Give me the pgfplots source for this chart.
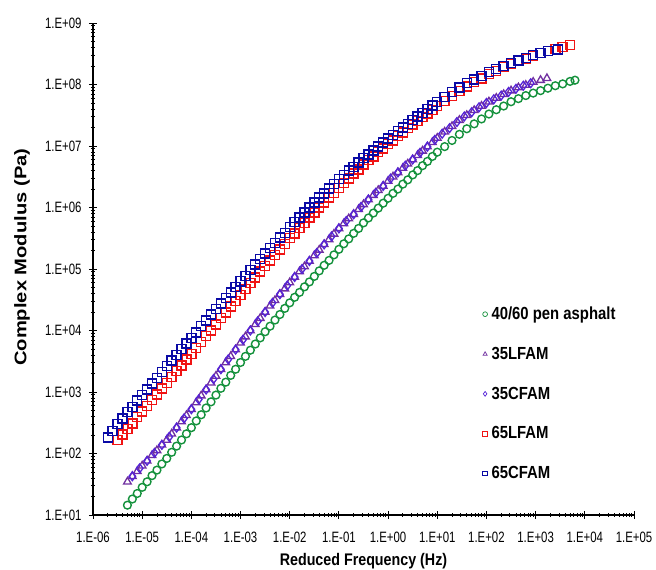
\documentclass[border=0pt]{standalone}
\usepackage{pgfplots}
\pgfplotsset{compat=1.18}
\usepackage{pgfplotstable}
\usepackage{fontspec}
\setmainfont{Liberation Sans}
\newfontfamily\tickfont{Liberation Sans}[FakeStretch=0.76]
\newfontfamily\labfont{Liberation Sans}[FakeStretch=0.85]
\newfontfamily\ylabfont{Liberation Sans}[FakeStretch=1.2]
\definecolor{cgreen}{RGB}{20,145,60}
\definecolor{cpurple}{RGB}{112,48,160}
\definecolor{cviolet}{RGB}{85,35,215}
\definecolor{cred}{RGB}{240,20,20}
\definecolor{cblue}{RGB}{10,10,165}

% log10(frequency)  log10(modulus)
\pgfplotstableread{
lx ly
-5.3 1.16
-5.2 1.26
-5.1 1.35
-5.0 1.45
-4.9 1.54
-4.8 1.64
-4.7 1.73
-4.6 1.83
-4.5 1.92
-4.4 2.02
-4.3 2.12
-4.2 2.22
-4.1 2.32
-4.0 2.42
-3.9 2.53
-3.8 2.63
-3.7 2.74
-3.6 2.84
-3.5 2.95
-3.4 3.06
-3.3 3.16
-3.2 3.27
-3.1 3.37
-3.0 3.48
-2.9 3.58
-2.8 3.68
-2.7 3.78
-2.6 3.88
-2.5 3.98
-2.4 4.07
-2.3 4.17
-2.2 4.26
-2.1 4.36
-2.0 4.45
-1.9 4.54
-1.8 4.62
-1.7 4.71
-1.6 4.79
-1.5 4.88
-1.4 4.97
-1.3 5.06
-1.2 5.14
-1.1 5.23
-1.0 5.32
-0.9 5.41
-0.8 5.49
-0.7 5.58
-0.6 5.66
-0.5 5.75
-0.4 5.83
-0.3 5.91
-0.2 5.99
-0.1 6.07
0.0 6.15
0.1 6.23
0.2 6.30
0.3 6.38
0.4 6.45
0.5 6.53
0.6 6.60
0.7 6.68
0.8 6.75
0.9 6.83
1.0 6.90
1.15 6.99
1.3 7.09
1.45 7.19
1.6 7.28
1.75 7.36
1.9 7.44
2.05 7.52
2.2 7.59
2.35 7.65
2.5 7.72
2.65 7.77
2.8 7.82
2.95 7.86
3.1 7.90
3.25 7.94
3.4 7.98
3.55 8.01
3.7 8.05
3.8 8.07
}\tgreen

\pgfplotstableread{
lx ly
-5.3 1.54
-5.2 1.63
-5.1 1.71
-5.0 1.80
-4.9 1.88
-4.8 1.97
-4.7 2.05
-4.6 2.14
-4.5 2.22
-4.4 2.32
-4.3 2.42
-4.2 2.52
-4.1 2.62
-4.0 2.72
-3.9 2.83
-3.8 2.94
-3.7 3.04
-3.6 3.15
-3.5 3.26
-3.4 3.37
-3.3 3.48
-3.2 3.58
-3.1 3.69
-3.0 3.80
-2.9 3.90
-2.8 4.00
-2.7 4.10
-2.6 4.20
-2.5 4.30
-2.4 4.40
-2.3 4.49
-2.2 4.59
-2.1 4.68
-2.0 4.78
-1.9 4.87
-1.8 4.96
-1.7 5.04
-1.6 5.13
-1.5 5.22
-1.4 5.31
-1.3 5.40
-1.2 5.48
-1.1 5.57
-1.0 5.66
-0.9 5.74
-0.8 5.82
-0.7 5.89
-0.6 5.97
-0.5 6.05
-0.4 6.13
-0.3 6.20
-0.2 6.28
-0.1 6.35
0.0 6.43
0.1 6.50
0.2 6.57
0.3 6.64
0.4 6.71
0.5 6.78
0.6 6.85
0.7 6.92
0.8 6.99
0.9 7.06
1.0 7.13
1.15 7.23
1.3 7.32
1.45 7.42
1.6 7.50
1.75 7.58
1.9 7.65
2.05 7.72
2.2 7.78
2.35 7.84
2.5 7.90
2.65 7.95
2.8 7.99
2.95 8.04
3.1 8.07
3.23 8.10
}\tlf

\pgfplotstableread{
lx ly
-5.2 1.63
-5.05 1.76
-4.9 1.88
-4.75 2.01
-4.6 2.14
-4.45 2.27
-4.3 2.42
-4.15 2.57
-4.0 2.72
-3.85 2.88
-3.7 3.04
-3.55 3.21
-3.4 3.37
-3.25 3.53
-3.1 3.69
-2.95 3.85
-2.8 4.00
-2.65 4.15
-2.5 4.30
-2.35 4.45
-2.2 4.59
-2.05 4.73
-1.9 4.87
-1.75 5.00
-1.6 5.13
-1.45 5.26
-1.3 5.40
-1.15 5.53
-1.0 5.66
-0.85 5.78
-0.7 5.89
-0.55 6.01
-0.4 6.13
-0.25 6.24
-0.1 6.35
0.05 6.47
0.2 6.57
0.35 6.68
0.5 6.78
0.65 6.89
0.8 6.99
0.95 7.10
1.1 7.20
1.25 7.29
1.4 7.39
1.55 7.48
1.7 7.55
1.85 7.63
2.0 7.70
2.15 7.76
2.3 7.82
2.45 7.88
2.6 7.93
2.75 7.98
2.9 8.02
}\tcf

\pgfplotstableread{
lx ly
-5.5 2.22
-5.4 2.31
-5.3 2.40
-5.2 2.49
-5.1 2.59
-5.0 2.68
-4.9 2.77
-4.8 2.87
-4.7 2.96
-4.6 3.06
-4.5 3.15
-4.4 3.24
-4.3 3.34
-4.2 3.43
-4.1 3.53
-4.0 3.62
-3.9 3.72
-3.8 3.81
-3.7 3.91
-3.6 4.00
-3.5 4.10
-3.4 4.20
-3.3 4.29
-3.2 4.39
-3.1 4.48
-3.0 4.58
-2.9 4.67
-2.8 4.77
-2.7 4.86
-2.6 4.96
-2.5 5.05
-2.4 5.14
-2.3 5.23
-2.2 5.32
-2.1 5.41
-2.0 5.50
-1.9 5.58
-1.8 5.67
-1.7 5.75
-1.6 5.84
-1.5 5.92
-1.4 6.00
-1.3 6.08
-1.2 6.16
-1.1 6.24
-1.0 6.32
-0.9 6.40
-0.8 6.47
-0.7 6.55
-0.6 6.62
-0.5 6.70
-0.4 6.77
-0.3 6.83
-0.2 6.90
-0.1 6.96
0.0 7.03
0.1 7.09
0.2 7.16
0.3 7.22
0.4 7.29
0.5 7.35
0.6 7.41
0.7 7.47
0.8 7.53
0.9 7.59
1.0 7.65
1.15 7.73
1.3 7.81
1.45 7.89
1.6 7.97
1.75 8.04
1.9 8.10
2.05 8.17
2.2 8.22
2.35 8.28
2.5 8.33
2.65 8.38
2.8 8.42
2.95 8.47
3.1 8.51
3.25 8.54
3.4 8.58
3.55 8.61
3.7 8.64
}\tlsf

\pgfplotstableread{
lx ly
-5.7 2.26
-5.6 2.37
-5.5 2.48
-5.4 2.57
-5.3 2.67
-5.2 2.76
-5.1 2.86
-5.0 2.95
-4.9 3.04
-4.8 3.14
-4.7 3.23
-4.6 3.33
-4.5 3.42
-4.4 3.51
-4.3 3.60
-4.2 3.70
-4.1 3.79
-4.0 3.88
-3.9 3.97
-3.8 4.07
-3.7 4.16
-3.6 4.26
-3.5 4.35
-3.4 4.44
-3.3 4.53
-3.2 4.62
-3.1 4.71
-3.0 4.80
-2.9 4.89
-2.8 4.98
-2.7 5.07
-2.6 5.16
-2.5 5.25
-2.4 5.34
-2.3 5.42
-2.2 5.51
-2.1 5.59
-2.0 5.68
-1.9 5.76
-1.8 5.84
-1.7 5.92
-1.6 6.00
-1.5 6.08
-1.4 6.16
-1.3 6.23
-1.2 6.31
-1.1 6.38
-1.0 6.46
-0.9 6.53
-0.8 6.60
-0.7 6.66
-0.6 6.73
-0.5 6.80
-0.4 6.86
-0.3 6.93
-0.2 6.99
-0.1 7.06
0.0 7.12
0.1 7.18
0.2 7.24
0.3 7.30
0.4 7.36
0.5 7.42
0.6 7.48
0.7 7.54
0.8 7.60
0.9 7.66
1.0 7.72
1.15 7.80
1.3 7.88
1.45 7.95
1.6 8.02
1.75 8.08
1.9 8.14
2.05 8.20
2.2 8.25
2.35 8.30
2.5 8.35
2.65 8.39
2.8 8.43
2.95 8.48
3.1 8.51
3.25 8.54
3.45 8.57
}\tcsf

\pgfplotsset{
  legimg/.style 2 args={legend image code/.code={%
    \draw[mark=#1, mark size=2.4pt, mark options={draw=#2, line width=0.7pt, fill=none}] plot coordinates {(0.12cm,0cm)};}},
}

\begin{document}
\begin{tikzpicture}
\begin{axis}[
  width=541pt, height=492pt, scale only axis,
  xmode=log, ymode=log,
  xmin=1e-6, xmax=1e5, ymin=1e1, ymax=1e9,
  xtickten={-6,-5,-4,-3,-2,-1,0,1,2,3,4,5},
  ytickten={1,2,3,4,5,6,7,8,9},
  xticklabels={1.E-06,1.E-05,1.E-04,1.E-03,1.E-02,1.E-01,1.E+00,1.E+01,1.E+02,1.E+03,1.E+04,1.E+05},
  yticklabels={1.E+01,1.E+02,1.E+03,1.E+04,1.E+05,1.E+06,1.E+07,1.E+08,1.E+09},
  axis lines*=left,
  axis line style={line width=1.3pt, -},
  tick style={black, line width=0.9pt},
  tick align=center,
  major tick length=8pt, minor tick length=4pt,
  xticklabel style={font=\tickfont\fontsize{15}{17}\selectfont, yshift=-9pt},
  yticklabel style={font=\tickfont\fontsize{15}{17}\selectfont, xshift=-4pt},
  xlabel={Reduced Frequency (Hz)},
  ylabel={Complex Modulus (Pa)},
  xlabel style={font=\labfont\bfseries\fontsize{16.8}{18}\selectfont, at={(axis description cs:0.5,0)}, anchor=center, yshift=-46pt},
  ylabel style={font=\ylabfont\bfseries\fontsize{16.8}{18}\selectfont, at={(axis description cs:0,0.524)}, anchor=center, yshift=71pt},
  legend style={draw=none, fill=none, at={(axis description cs:0.72,0.425)}, anchor=north west,
    font=\labfont\bfseries\fontsize{17.5}{19}\selectfont, inner sep=0pt,
    row sep=24pt, nodes={inner sep=1pt},
    /tikz/every odd column/.append style={column sep=3pt}},
  legend cell align=left,
]
\addplot[only marks, mark=o, mark size=3.9pt, mark options={draw=cgreen, line width=1.4pt, fill=none}, legimg={o}{cgreen}]
  table[x expr={10^(\thisrow{lx})}, y expr={10^(\thisrow{ly})}] {\tgreen};
\addlegendentry{40/60 pen asphalt}
\addplot[only marks, mark=triangle, mark size=4.4pt, mark options={draw=cpurple, line width=1.3pt, fill=none}, legimg={triangle}{cpurple}]
  table[x expr={10^(\thisrow{lx})}, y expr={10^(\thisrow{ly})}] {\tlf};
\addlegendentry{35LFAM}
\addplot[only marks, mark=diamond, mark size=4.4pt, mark options={draw=cviolet, line width=1.3pt, fill=none}, legimg={diamond}{cviolet}]
  table[x expr={10^(\thisrow{lx})}, y expr={10^(\thisrow{ly})}] {\tcf};
\addlegendentry{35CFAM}
\addplot[only marks, mark=square, mark size=4.5pt, mark options={draw=cred, line width=1.4pt, fill=none}, legimg={square}{cred}]
  table[x expr={10^(\thisrow{lx})}, y expr={10^(\thisrow{ly})}] {\tlsf};
\addlegendentry{65LFAM}
\addplot[only marks, mark=square, mark size=4.5pt, mark options={draw=cblue, line width=1.4pt, fill=none}, legimg={square}{cblue}]
  table[x expr={10^(\thisrow{lx})}, y expr={10^(\thisrow{ly})}] {\tcsf};
\addlegendentry{65CFAM}
\coordinate (ll) at (rel axis cs:0,0);
\coordinate (ur) at (rel axis cs:1,1);
\end{axis}
\pgfresetboundingbox
\path[use as bounding box] ([shift={(-93pt,-55pt)}]ll) rectangle ([shift={(22pt,23pt)}]ur);
\end{tikzpicture}
\end{document}
